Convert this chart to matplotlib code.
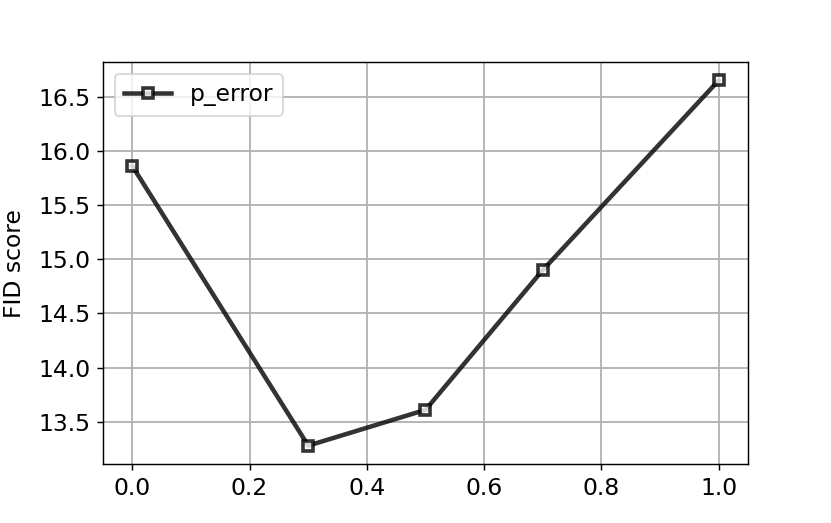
import matplotlib
matplotlib.use("Agg")
import matplotlib.pyplot as plt

# p_error sweep vs FID
p_error = [0.0, 0.3, 0.5, 0.7, 1.0]
fid_score = [15.86, 13.28, 13.61, 14.90, 16.65]

DPI = 130
plt.rcParams["font.size"] = 13

fig = plt.figure(figsize=(831 / DPI, 523 / DPI), dpi=DPI)
ax = fig.add_subplot(111)
fig.subplots_adjust(left=0.124, right=0.900, top=0.881, bottom=0.113)

ax.plot(p_error, fid_score, marker="s", color="black", alpha=0.8,
        linewidth=2.5, markersize=6, markerfacecolor="white",
        markeredgecolor="black", markeredgewidth=2, label="p_error")
ax.set_ylabel("FID score", labelpad=7)
ax.grid(True, color="#b0b0b0", linewidth=1.0)
ax.legend(loc="upper left")

fig.savefig("out.png", dpi=DPI)
plt.close(fig)
